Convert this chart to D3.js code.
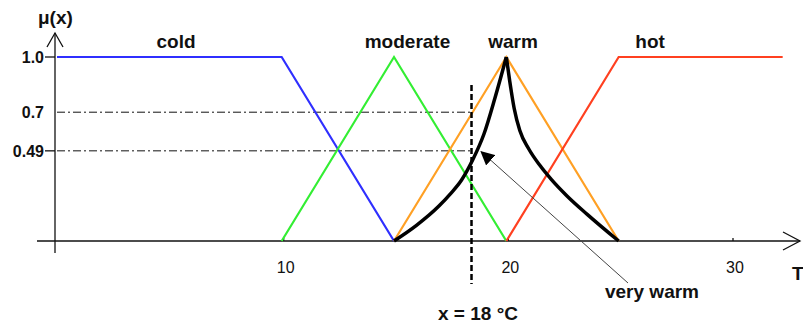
<!DOCTYPE html>
<html>
<head>
<meta charset="utf-8">
<script src="https://cdn.jsdelivr.net/npm/d3@7"></script>
<style>
	body { margin: 0; background: #fff; }
	svg text { font-family: 'Liberation Sans', Arial, sans-serif; fill: #111; }
</style>
</head>
<body>
<div id="chart"></div>
<script>
	// membership functions, [temperature, mu]
	const cold = [[0, 1], [10, 1], [15, 0]];
	const moderate = [[10, 0], [15, 1], [20, 0]];
	const warm = [[15, 0], [20, 1], [25, 0]];
	const hot = [[20, 0], [25, 1], [32.3, 1]];
	// "very warm", left and right half
	const veryWarmLeft = [[15, 0], [16, 0.085], [17, 0.19], [17.5, 0.255], [18, 0.33], [18.5, 0.44],
		[19, 0.58], [19.5, 0.78], [20, 1]];
	const veryWarmRight = [[20, 1], [20.15, 0.87], [20.35, 0.72], [20.6, 0.6], [21, 0.5], [21.5, 0.41],
		[22, 0.335], [22.7, 0.245], [23.6, 0.145], [25, 0]];

	const setNames = ['cold', 'moderate', 'warm', 'hot'];
	const setLabelX = [5.3, 15.6, 20.3, 26.4];
	const xTicks = [10, 20, 30];
	const yTicks = [1.0, 0.7, 0.49];
	const yTickLabels = ['1.0', '0.7', '0.49'];
	const guideLevels = [0.7, 0.49];
	const markerX = 18.45;

	const width = 803;
	const height = 329;
	const colors = {
		cold: '#2f2fff',
		moderate: '#33ee33',
		warm: '#ffa024',
		hot: '#ff4020',
	};

	const svg = d3.select('#chart').append('svg')
		.attr('width', width)
		.attr('height', height);

	const x = d3.scaleLinear().domain([0, 30]).range([57, 731]);
	const y = d3.scaleLinear().domain([0, 1]).range([241, 57]);

	const line = d3.line()
		.x(d => x(d[0]))
		.y(d => y(d[1]));
	const curve = d3.line()
		.x(d => x(d[0]))
		.y(d => y(d[1]))
		.curve(d3.curveMonotoneX);

	// axes
	const axisG = svg.append('g')
		.style('stroke', '#111')
		.style('fill', 'none')
		.style('stroke-width', 1.3);
	axisG.append('line')
		.attr('x1', 37).attr('x2', 800)
		.attr('y1', y(0)).attr('y2', y(0));
	axisG.append('path')
		.attr('d', `M783,${y(0) - 9}L800,${y(0)}L783,${y(0) + 9}`);
	axisG.append('line')
		.attr('x1', x(0) - 2).attr('x2', x(0) - 2)
		.attr('y1', 253).attr('y2', 33);
	axisG.append('path')
		.attr('d', `M${x(0) - 10},47L${x(0) - 2},33L${x(0) + 6},47`);

	// y ticks
	yTicks.forEach((v, i) => {
		if (v !== 0.7) {
			axisG.append('line')
				.attr('x1', x(0) - 12).attr('x2', x(0) - 2)
				.attr('y1', y(v)).attr('y2', y(v));
		}
		svg.append('text')
			.attr('x', 44)
			.attr('y', y(v) + 6)
			.attr('text-anchor', 'end')
			.style('font-size', '16px')
			.style('font-weight', 'bold')
			.text(yTickLabels[i]);
	});

	// x ticks
	xTicks.forEach(v => {
		axisG.append('line')
			.attr('x1', x(v) + 2).attr('x2', x(v) + 2)
			.attr('y1', y(0)).attr('y2', y(0) - 3);
		svg.append('text')
			.attr('x', x(v) + 4)
			.attr('y', 273)
			.attr('text-anchor', 'middle')
			.style('font-size', '16px')
			.text(v);
	});

	// dash-dot guides
	guideLevels.forEach(v => {
		svg.append('line')
			.attr('x1', x(0)).attr('x2', x(markerX))
			.attr('y1', y(v)).attr('y2', y(v))
			.style('stroke', '#111')
			.style('stroke-width', 1)
			.style('stroke-dasharray', '8,3,2,3');
	});

	// membership lines
	const sets = [cold, moderate, warm, hot];
	sets.forEach((s, i) => {
		svg.append('path')
			.attr('d', line(s))
			.style('fill', 'none')
			.style('stroke', colors[setNames[i]])
			.style('stroke-width', 2.2);
	});

	// very warm
	[veryWarmLeft, veryWarmRight].forEach(s => {
		svg.append('path')
			.attr('d', curve(s))
			.style('fill', 'none')
			.style('stroke', '#000')
			.style('stroke-width', 3.5)
			.style('stroke-linejoin', 'round');
	});

	// marker at x = 18
	svg.append('line')
		.attr('x1', x(markerX)).attr('x2', x(markerX))
		.attr('y1', 85).attr('y2', 284)
		.style('stroke', '#000')
		.style('stroke-width', 2.5)
		.style('stroke-dasharray', '6,3');

	// set labels
	setNames.forEach((n, i) => {
		svg.append('text')
			.attr('x', x(setLabelX[i]))
			.attr('y', 48)
			.attr('text-anchor', 'middle')
			.style('font-size', '19px')
			.style('font-weight', 'bold')
			.text(n);
	});

	// pointer to the very warm curve
	svg.append('defs').append('marker')
		.attr('id', 'head')
		.attr('viewBox', '0 0 10 10')
		.attr('refX', 9).attr('refY', 5)
		.attr('markerWidth', 14).attr('markerHeight', 14)
		.attr('markerUnits', 'userSpaceOnUse')
		.attr('orient', 'auto')
		.append('path')
			.attr('d', 'M0,0L10,5L0,10Z')
			.style('fill', '#000');
	svg.append('line')
		.attr('x1', 628).attr('y1', 283)
		.attr('x2', x(18.8) + 2).attr('y2', y(0.49) + 1)
		.style('stroke', '#444')
		.style('stroke-width', 1)
		.attr('marker-end', 'url(#head)');

	const labelStyle = t => t.style('font-size', '19px').style('font-weight', 'bold');
	svg.append('text')
		.attr('x', 652).attr('y', 298)
		.attr('text-anchor', 'middle')
		.call(labelStyle)
		.text('very warm');
	svg.append('text')
		.attr('x', 478).attr('y', 320)
		.attr('text-anchor', 'middle')
		.call(labelStyle)
		.text('x = 18 °C');
	svg.append('text')
		.attr('x', 38).attr('y', 24)
		.call(labelStyle)
		.text('μ(x)');
	svg.append('text')
		.attr('x', 792).attr('y', 280)
		.call(labelStyle)
		.text('T');
</script>
</body>
</html>
